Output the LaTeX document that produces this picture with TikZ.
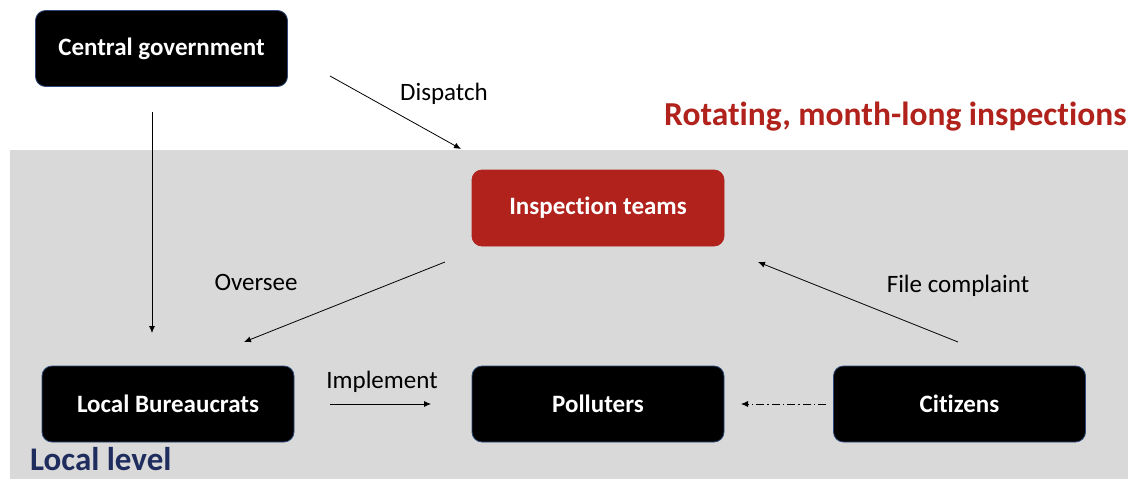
\documentclass[tikz,border=0pt]{standalone}
\usepackage{fontspec}
\setmainfont{Carlito}[Ligatures=NoCommon]
\usetikzlibrary{arrows.meta}
\definecolor{inspred}{HTML}{B0221B}
\definecolor{bggray}{HTML}{D9D9D9}
\definecolor{navy}{HTML}{1F2D5E}
\definecolor{edgeblue}{HTML}{2F4A78}
\begin{document}
\begin{tikzpicture}[x=1pt,y=-1pt,
  actor/.style={draw=edgeblue, line width=0.8pt, fill=black, rounded corners=10pt,
    minimum width=252pt, minimum height=76pt, text=white,
    font=\fontsize{25}{30}\selectfont\bfseries},
  lbl/.style={font=\fontsize{25}{30}\selectfont, text=black},
  link/.style={line width=0.8pt, -{Latex[length=7pt,width=6pt]}}
]
\useasboundingbox (0,0) rectangle (1128,479);
% shaded local-level region
\fill[bggray] (10,150) rectangle (1128,479);

% actors
\node[actor] (cg) at (161.5,48.5) {Central government};
\node[actor, fill=inspred, draw=inspred] (it) at (598,208) {Inspection teams};
\node[actor] (lb) at (168,404) {Local Bureaucrats};
\node[actor] (pl) at (598,404) {Polluters};
\node[actor] (ct) at (959.5,404) {Citizens};

% region titles
\node[anchor=east, text=inspred, font=\fontsize{33.5}{40}\selectfont\bfseries] (rot) at (1130,117) {Rotating, month-long inspections};
\node[anchor=base west, inner sep=0pt, text=navy, font=\fontsize{33}{38}\selectfont\bfseries] (loc) at (30,470) {Local level};

% connector end points
\coordinate (cgS) at (152,112);
\coordinate (lbN) at (152,333);
\coordinate (dA) at (330,76);
\coordinate (dB) at (461,149);
\coordinate (oA) at (445,262);
\coordinate (oB) at (244,342);
\coordinate (fA) at (958,342);
\coordinate (fB) at (758,262);
\coordinate (iA) at (330,404);
\coordinate (iB) at (431,404);
\coordinate (cA) at (826,404);
\coordinate (cB) at (741,404);

% connectors
\draw[link] (cgS) -- (lbN);
\draw[link] (dA) -- (dB);
\draw[link] (oA) -- (oB);
\draw[link] (fA) -- (fB);
\draw[link] (iA) -- (iB);
\draw[link, dash pattern=on 8pt off 3pt on 1.5pt off 3pt] (cA) -- (cB);

% connector labels
\node[lbl] (ld) at (444,94) {Dispatch};
\node[lbl] (lo) at (256,282) {Oversee};
\node[lbl] (lf) at (958,286) {File complaint};
\node[lbl] (li) at (382,382) {Implement};
\end{tikzpicture}
\end{document}
